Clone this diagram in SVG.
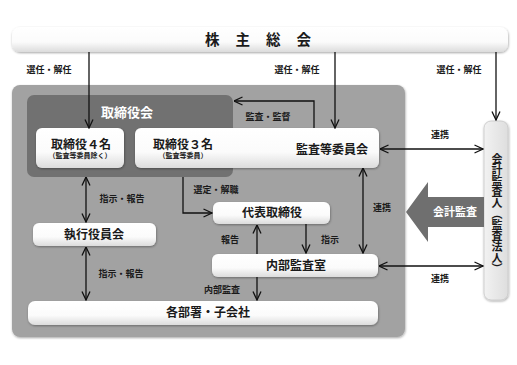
<svg xmlns="http://www.w3.org/2000/svg" width="517" height="365" viewBox="0 0 517 365">
<defs>
<linearGradient id="wg" x1="0" y1="0" x2="0" y2="1">
<stop offset="0" stop-color="#ffffff"/>
<stop offset="0.6" stop-color="#fbfbfb"/>
<stop offset="1" stop-color="#dcdcdc"/>
</linearGradient>
<linearGradient id="gg" x1="0" y1="0" x2="1" y2="0">
<stop offset="0" stop-color="#f2f2f2"/>
<stop offset="1" stop-color="#dedede"/>
</linearGradient>
<filter id="sh" x="-10%" y="-20%" width="120%" height="150%">
<feDropShadow dx="0.5" dy="1" stdDeviation="0.8" flood-color="#000" flood-opacity="0.35"/>
</filter>
<marker id="ah" viewBox="0 0 10 10" refX="9.5" refY="5" markerWidth="10" markerHeight="10" markerUnits="userSpaceOnUse" orient="auto-start-reverse">
<path d="M1,1 L9.5,5 L1,9" fill="none" stroke="#111" stroke-width="1.3"/>
</marker>
</defs>
<style>
text{font-family:"Liberation Serif","Noto Sans CJK JP",serif;font-weight:bold;fill:#1a1a1a;text-anchor:middle;dominant-baseline:central}
.box{fill:url(#wg);filter:url(#sh)}
.m{font-size:12px}
.s{font-size:7px}
.l{font-size:9px}
.w{fill:#ffffff}
.ln{fill:none;stroke:#111;stroke-width:1.3}
.one{marker-end:url(#ah)}
.two{marker-start:url(#ah);marker-end:url(#ah)}
</style>
<rect width="517" height="365" fill="#ffffff"/>

<g id="shareholders">
<rect class="box" x="12" y="27" width="496" height="25" rx="8"/>
<text x="258" y="40" style="font-size:14.5px;letter-spacing:16px" dx="8">株主総会</text>
</g>

<g id="company-panel">
<rect x="12" y="85" width="393" height="252" rx="8" fill="#a2a2a2" filter="url(#sh)"/>
</g>

<g id="board">
<rect x="27" y="95" width="206" height="82" rx="7" fill="#717171"/>
<text class="w" x="127" y="112" style="font-size:13px">取締役会</text>
</g>

<g id="directors4">
<rect class="box" x="36" y="128" width="88" height="40" rx="6"/>
<text class="m" x="81" y="145">取締役４名</text>
<text class="s" x="80" y="156">（監査等委員除く）</text>
</g>

<g id="directors3">
<rect class="box" x="135" y="128" width="244" height="40" rx="6"/>
<text class="m" x="183" y="145">取締役３名</text>
<text class="s" x="183" y="156">（監査等委員）</text>
<text class="m" x="332" y="150">監査等委員会</text>
</g>

<g id="exec-officers">
<rect class="box" x="33" y="223" width="123" height="23" rx="6"/>
<text class="m" x="94" y="235">執行役員会</text>
</g>

<g id="representative">
<rect class="box" x="213" y="202" width="117" height="22" rx="6"/>
<text class="m" x="272" y="213">代表取締役</text>
</g>

<g id="internal-audit">
<rect class="box" x="212" y="254" width="166" height="23" rx="6"/>
<text class="m" x="296" y="266">内部監査室</text>
</g>

<g id="departments">
<rect class="box" x="28" y="301" width="350" height="24" rx="7"/>
<text class="m" x="208" y="313">各部署・子会社</text>
</g>

<g id="auditor">
<rect x="484" y="121" width="24" height="179" rx="7" fill="url(#gg)" stroke="#c8c8c8" stroke-width="0.8" filter="url(#sh)"/>
<text x="496" y="214" style="font-size:11px;writing-mode:vertical-rl">会計監査人（監査法人）</text>
</g>

<g id="accounting-audit">
<polygon points="406,212 428,182 428,197 484,197 484,227 428,227 428,242" fill="#6f6f6f"/>
<text class="w" x="455" y="212" style="font-size:11px">会計監査</text>
</g>

<g id="connectors">
<path class="ln one" d="M89,52 V128"/>
<path class="ln one" d="M335,52 V128"/>
<path class="ln one" d="M496,52 V120"/>
<path class="ln one" d="M314,128 V101 H234"/>
<path class="ln two" d="M380,149 H483"/>
<path class="ln two" d="M379,266 H483"/>
<path class="ln two" d="M363,168 V253"/>
<path class="ln one" d="M183,177 V213 H212"/>
<path class="ln two" d="M86,177 V222"/>
<path class="ln two" d="M86,247 V300"/>
<path class="ln one" d="M257,254 V225"/>
<path class="ln one" d="M306,224 V253"/>
<path class="ln one" d="M257,277 V300"/>
<text class="l" x="49" y="70">選任・解任</text>
<text class="l" x="297" y="70">選任・解任</text>
<text class="l" x="459" y="70">選任・解任</text>
<text class="l" x="268" y="117">監査・監督</text>
<text class="l" x="440" y="135">連携</text>
<text class="l" x="382" y="208">連携</text>
<text class="l" x="440" y="279">連携</text>
<text class="l" x="216" y="190">選定・解職</text>
<text class="l" x="230" y="240">報告</text>
<text class="l" x="330" y="240">指示</text>
<text class="l" x="222" y="290">内部監査</text>
<text class="l" x="122" y="199">指示・報告</text>
<text class="l" x="121" y="274">指示・報告</text>
</g>
</svg>
